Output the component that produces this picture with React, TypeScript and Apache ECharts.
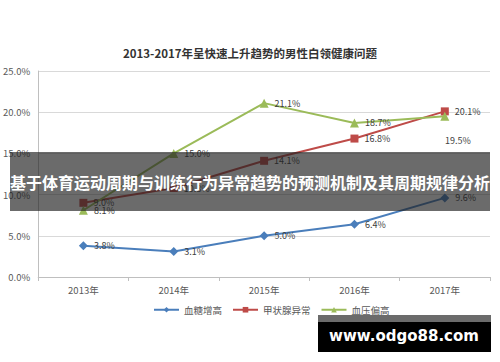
import React, { useEffect, useRef } from "react";
import * as echarts from "echarts";

const categories = ["2013年", "2014年", "2015年", "2016年", "2017年"];
const bloodSugar = [3.8, 3.1, 5.0, 6.4, 9.6];
const thyroid = [9.0, 10.8, 14.1, 16.8, 20.1];
const bloodPressure = [8.1, 15.0, 21.1, 18.7, 19.5];
const seriesNames = ["血糖增高", "甲状腺异常", "血压偏高"];
const yTicks = [0, 5, 10, 15, 20, 25];

const titleText = "2013-2017年呈快速上升趋势的男性白领健康问题";
const bannerText = "基于体育运动周期与训练行为异常趋势的预测机制及其周期规律分析";
const siteText = "www.odgo88.com";

const FONT = "'Noto Sans CJK SC', 'Noto Sans', sans-serif";

export default function App() {
  const ref = useRef<HTMLDivElement>(null);

  useEffect(() => {
    if (!ref.current) return;
    const chart = echarts.init(ref.current, null, { renderer: "svg" });
    const fmt = (p: any) => Number(p.value).toFixed(1) + "%";
    const label = {
      show: true,
      position: "right" as const,
      distance: 6,
      formatter: fmt,
      color: "#404040",
      fontSize: 9,
      fontFamily: FONT,
    };
    const greenData = bloodPressure.map((v, i) =>
      i === 4 ? { value: v, label: { position: "bottom", offset: [13, 9] } } : v
    );
    chart.setOption({
      animation: false,
      backgroundColor: "#ffffff",
      title: {
        text: titleText,
        left: "center",
        top: 42,
        textStyle: { fontSize: 11.5, fontWeight: "bold", color: "#333", fontFamily: FONT },
      },
      grid: { left: 38, right: 10, top: 71, bottom: 85 },
      legend: {
        data: seriesNames,
        left: 148,
        top: 300,
        itemWidth: 25,
        itemHeight: 7,
        itemGap: 10,
        textStyle: { fontSize: 9.5, color: "#595959", fontFamily: FONT },
      },
      xAxis: {
        type: "category",
        data: categories,
        boundaryGap: true,
        axisLine: { lineStyle: { color: "#bfbfbf" } },
        axisTick: { show: true, lineStyle: { color: "#bfbfbf" }, length: 4 },
        axisLabel: { color: "#595959", fontSize: 9.5, fontFamily: FONT, margin: 8 },
      },
      yAxis: {
        type: "value",
        min: yTicks[0],
        max: yTicks[yTicks.length - 1],
        interval: 5,
        axisLine: { show: true, lineStyle: { color: "#bfbfbf" } },
        axisTick: { show: false },
        splitLine: { lineStyle: { color: "#d9d9d9" } },
        axisLabel: {
          color: "#595959",
          fontSize: 9.5,
          fontFamily: FONT,
          margin: 8,
          formatter: (v: number) => v.toFixed(1) + "%",
        },
      },
      series: [
        {
          name: seriesNames[0],
          type: "line",
          data: bloodSugar,
          symbol: "diamond",
          symbolSize: 9,
          color: "#4a7ebb",
          lineStyle: { width: 2 },
          label,
        },
        {
          name: seriesNames[1],
          type: "line",
          data: thyroid,
          symbol: "rect",
          symbolSize: 8,
          color: "#be4b48",
          lineStyle: { width: 2 },
          label,
        },
        {
          name: seriesNames[2],
          type: "line",
          data: greenData,
          symbol: "triangle",
          symbolSize: 9,
          color: "#9bbb59",
          lineStyle: { width: 2 },
          label,
        },
      ],
      graphic: [
        {
          type: "rect",
          z: 100,
          shape: { x: 10, y: 152, width: 480, height: 59 },
          style: { fill: "rgba(30,30,30,0.66)" },
        },
        {
          type: "text",
          z: 101,
          x: 250,
          y: 182,
          style: {
            text: bannerText,
            fill: "#ffffff",
            font: "bold 16px " + FONT,
            align: "center",
            verticalAlign: "middle",
          },
        },
        {
          type: "rect",
          z: 100,
          shape: { x: 318, y: 315, width: 173, height: 7 },
          style: { fill: "rgba(30,30,30,0.66)" },
        },
        {
          type: "rect",
          z: 100,
          shape: { x: 318, y: 322, width: 173, height: 30 },
          style: { fill: "#000000" },
        },
        {
          type: "text",
          z: 101,
          x: 404,
          y: 336,
          style: {
            text: siteText,
            fill: "#ffffff",
            font: "bold 15px 'DejaVu Sans', sans-serif",
            align: "center",
            verticalAlign: "middle",
          },
        },
      ],
    });
    return () => chart.dispose();
  }, []);

  return (
    <div
      ref={ref}
      style={{ position: "fixed", left: 0, top: 0, width: 500, height: 362 }}
    />
  );
}
